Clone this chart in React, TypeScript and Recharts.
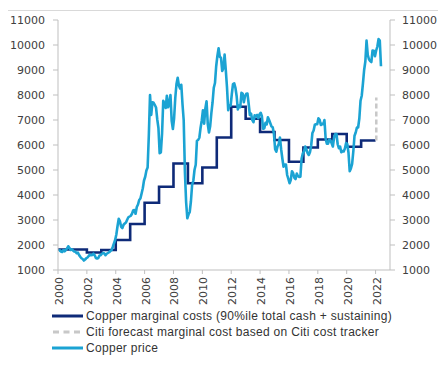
import React from "react";
import { LineChart, Line, XAxis, YAxis, Legend } from "recharts";

// ---- data ----
const PRICE_START_YEAR = 2000;
// Monthly copper price (US$/t), Jan 2000 - Dec 2009
const copperPrice2000s = [
  1760, 1790, 1740, 1720, 1800, 1750, 1800, 1860, 1950, 1880, 1800, 1830,
  1780, 1740, 1730, 1670, 1700, 1600, 1530, 1470, 1440, 1380, 1420, 1470,
  1500, 1560, 1610, 1590, 1600, 1650, 1590, 1480, 1460, 1480, 1580, 1590,
  1650, 1680, 1660, 1590, 1650, 1680, 1710, 1760, 1790, 1920, 2060, 2200,
  2420, 2760, 3050, 2950, 2730, 2680, 2810, 2860, 2900, 3010, 3110, 3140,
  3170, 3250, 3380, 3400, 3250, 3520, 3620, 3800, 3860, 4060, 4270, 4580,
  4730, 4980, 5100, 6380, 8000, 7200, 7710, 7690, 7600, 7500, 7030, 6680,
  5670, 5700, 6450, 7770, 7650, 7480, 7970, 7510, 7650, 8000, 6970, 6640,
  7060, 7890, 8440, 8690, 8380, 8260, 8410, 7630, 6990, 4930, 3720, 3070,
  3220, 3320, 3750, 4410, 4570, 5010, 5210, 6170, 6200, 6290, 6680, 6980,
];
// Jan 2010 - Dec 2019
const copperPrice2010s = [
  7390, 6850, 7460, 7750, 6840, 6500, 6750, 7280, 7710, 8290, 8480, 9150,
  9560, 9870, 9530, 9490, 8960, 9070, 9620, 8990, 8300, 7390, 7580, 7570,
  8040, 8440, 8470, 8290, 7960, 7420, 7580, 7510, 8090, 8060, 7710, 7960,
  8050, 8060, 7650, 7200, 7250, 7000, 6910, 7190, 7160, 7200, 7070, 7220,
  7290, 7150, 6650, 6670, 6890, 6820, 7110, 7000, 6870, 6740, 6710, 6450,
  5830, 5730, 5940, 6040, 6300, 5830, 5460, 5130, 5220, 5220, 4800, 4640,
  4470, 4600, 4950, 4870, 4690, 4640, 4860, 4750, 4720, 4730, 5450, 5660,
  5740, 5940, 5820, 5680, 5600, 5720, 5990, 6480, 6580, 6810, 6830, 6830,
  7070, 7010, 6800, 6850, 6830, 7000, 6250, 6050, 6050, 6220, 6190, 6070,
  5940, 6300, 6440, 6440, 6030, 5870, 5940, 5710, 5760, 5740, 5860, 6080,
];
// Jan 2020 - May 2022
const copperPrice2020s = [
  6030, 5690, 4950, 5060, 5240, 5740, 6370, 6500, 6700, 6700, 7060, 7770,
  7970, 8460, 9000, 9340, 10180, 9610, 9430, 9360, 9320, 9780, 9770, 9550,
  9780, 9940, 10240, 10180, 9150,
];

// Copper marginal cost (90%ile total cash + sustaining), by year (step)
const costYears = [
  2000, 2001, 2002, 2003, 2004, 2005, 2006, 2007, 2008, 2009, 2010, 2011,
  2012, 2013, 2014, 2015, 2016, 2017, 2018, 2019, 2020, 2021, 2022,
];
const marginalCost = [
  1820, 1820, 1700, 1800, 2200, 2840, 3690, 4330, 5260, 4470, 5100, 6300,
  7530, 7050, 6520, 6200, 5330, 5900, 6220, 6440, 5930, 6180, 6180,
];

// Citi forecast marginal cost
const forecastYears = [2022.05, 2022.05];
const forecastCost = [6180, 7900];

const xTicks = [2000, 2002, 2004, 2006, 2008, 2010, 2012, 2014, 2016, 2018, 2020, 2022];
const yTicks = [1000, 2000, 3000, 4000, 5000, 6000, 7000, 8000, 9000, 10000, 11000];

const legendLabels = [
  "Copper marginal costs (90%ile total cash + sustaining)",
  "Citi forecast marginal cost based on Citi cost tracker",
  "Copper price",
];

// ---- styles ----
const NAVY = "#0e2a78";
const GRAY = "#c8c8c8";
const CYAN = "#1ba3d3";
const AXIS = "#bfbfbf";
const TEXT = "#404040";

const allPrices = [...copperPrice2000s, ...copperPrice2010s, ...copperPrice2020s];
const priceData = allPrices.map((v, i) => ({ x: PRICE_START_YEAR + (i + 0.5) / 12, price: v }));
const costData = costYears.map((y, i) => ({ x: y, cost: marginalCost[i] }));
const forecastData = forecastYears.map((y, i) => ({ x: y, forecast: forecastCost[i] }));

const XTick = (props: any) => {
  const { x, y, payload } = props;
  const ax = x + 5;
  const ay = y + 1;
  return (
    <text
      x={ax}
      y={ay}
      transform={`rotate(-90, ${ax}, ${ay})`}
      textAnchor="end"
      fontFamily="DejaVu Sans"
      fontSize={11}
      fill={TEXT}
    >
      {payload.value}
    </text>
  );
};

const legendStyles = [
  { color: NAVY, dash: undefined as string | undefined },
  { color: GRAY, dash: "6 4.5" },
  { color: CYAN, dash: undefined as string | undefined },
];

const renderLegend = () => (
  <div style={{ fontFamily: "Liberation Sans", fontSize: 12, color: "#333", lineHeight: "16px" }}>
    {legendLabels.map((label, i) => (
      <div key={label} style={{ display: "flex", alignItems: "center", height: 16, whiteSpace: "nowrap" }}>
        <svg width={34} height={16} style={{ display: "block" }}>
          <line
            x1={legendStyles[i].dash ? 1 : 0}
            y1={8}
            x2={legendStyles[i].dash ? 28 : 31}
            y2={8}
            stroke={legendStyles[i].color}
            strokeWidth={3}
            strokeDasharray={legendStyles[i].dash}
          />
        </svg>
        <span style={{ letterSpacing: 0.3 }}>{label}</span>
      </div>
    ))}
  </div>
);

export default function App() {
  return (
    <div
      style={{
        marginTop: 2,
        marginLeft: -1,
        width: 430,
        height: 346,
        borderTop: "1px solid #d9d9d9",
        borderLeft: "1px solid #d9d9d9",
        position: "relative",
      }}
    >
      <LineChart width={432} height={346} margin={{ top: 9, right: 0, left: 0, bottom: 47 }}>
        <XAxis
          type="number"
          dataKey="x"
          domain={[2000, 2023]}
          ticks={xTicks}
          interval={0}
          tick={<XTick />}
          tickSize={4}
          tickMargin={2}
          stroke={AXIS}
          height={40}
          allowDataOverflow
        />
        <YAxis
          yAxisId="left"
          domain={[1000, 11000]}
          ticks={yTicks}
          interval={0}
          width={50}
          tickSize={5}
          tickMargin={8}
          stroke={AXIS}
          tick={{ fill: TEXT, fontSize: 11, fontFamily: "DejaVu Sans" }}
          allowDataOverflow
        />
        <YAxis
          yAxisId="right"
          orientation="right"
          domain={[1000, 11000]}
          ticks={yTicks}
          interval={0}
          width={50}
          tickSize={5}
          tickMargin={7}
          stroke={AXIS}
          tick={{ fill: TEXT, fontSize: 11, fontFamily: "DejaVu Sans", textAnchor: "start" }}
          allowDataOverflow
        />
        <Line
          yAxisId="left"
          data={costData}
          dataKey="cost"
          type="stepAfter"
          stroke={NAVY}
          strokeWidth={2.6}
          dot={false}
          isAnimationActive={false}
          legendType="none"
        />
        <Line
          yAxisId="left"
          data={forecastData}
          dataKey="forecast"
          type="linear"
          stroke={GRAY}
          strokeWidth={2.5}
          strokeDasharray="5 3"
          dot={false}
          isAnimationActive={false}
          legendType="none"
        />
        <Line
          yAxisId="left"
          data={priceData}
          dataKey="price"
          type="linear"
          stroke={CYAN}
          strokeWidth={2.6}
          strokeLinejoin="round"
          dot={false}
          isAnimationActive={false}
          legendType="none"
        />
        <Legend
          layout="horizontal"
          verticalAlign="middle"
          align="center"
          content={renderLegend}
          wrapperStyle={{ top: 297, left: 44, width: "auto", height: "auto" }}
        />
      </LineChart>
    </div>
  );
}
